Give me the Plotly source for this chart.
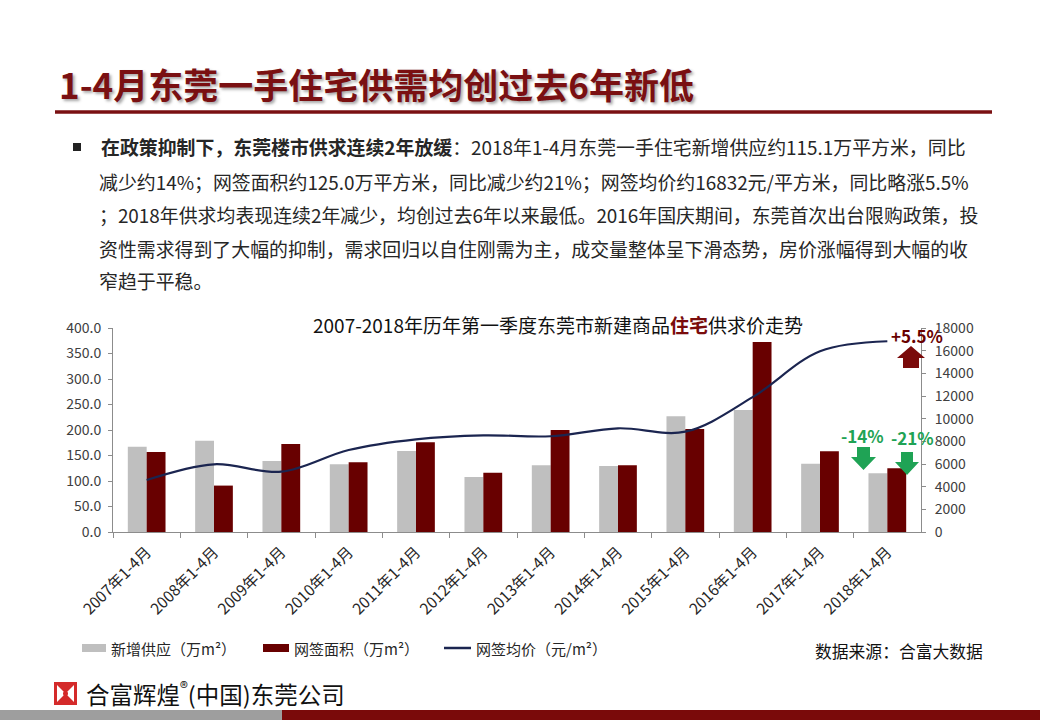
import plotly.graph_objects as go

# ---------------- data ----------------
categories = ["2007年1-4月", "2008年1-4月", "2009年1-4月", "2010年1-4月", "2011年1-4月",
              "2012年1-4月", "2013年1-4月", "2014年1-4月", "2015年1-4月", "2016年1-4月",
              "2017年1-4月", "2018年1-4月"]
supply = [167, 179, 139, 133, 159, 108, 131, 129.5, 227, 239, 133.8, 115.1]   # 新增供应（万m²）
signed = [157, 91, 172.5, 137, 176, 116, 200, 131, 202, 372.5, 158.2, 125.0]  # 网签面积（万m²）
price = [4590, 5975, 5320, 7240, 8180, 8530, 8450, 9150, 8850, 11900, 15950, 16832]  # 网签均价（元/m²）

series_names = ["新增供应（万m²）", "网签面积（万m²）", "网签均价（元/m²）"]
chart_title = "2007-2018年历年第一季度东莞市新建商品<b><span style='color:#7A0C0C'>住宅</span></b>供求价走势"
page_title = "1-4月东莞一手住宅供需均创过去6年新低"
body_lines = [
    "<b>在政策抑制下，东莞楼市供求连续2年放缓</b>：2018年1-4月东莞一手住宅新增供应约115.1万平方米，同比",
    "减少约14%；网签面积约125.0万平方米，同比减少约21%；网签均价约16832元/平方米，同比略涨5.5%",
    "；2018年供求均表现连续2年减少，均创过去6年以来最低。2016年国庆期间，东莞首次出台限购政策，投",
    "资性需求得到了大幅的抑制，需求回归以自住刚需为主，成交量整体呈下滑态势，房价涨幅得到大幅的收",
    "窄趋于平稳。",
]
change_labels = ["+5.5%", "-14%", "-21%"]
source_text = "数据来源：合富大数据"
footer_text = "合富辉煌<sup>®</sup>(中国)东莞公司"

# ---------------- styles ----------------
W, H = 1040, 720
FONT = "Noto Sans CJK SC"
GRAY = "#BFBFBF"
DARKRED = "#680000"
NAVY = "#1B2550"
GREEN = "#1FA355"
TITLE_RED = "#7A1012"
AXIS = "#8C8C8C"


def px(x):
    return x / W


def py(y):
    return 1 - y / H


def path(points):
    return "M " + " L ".join(f"{px(x):.5f},{py(y):.5f}" for x, y in points) + " Z"


fig = go.Figure()
fig.add_trace(go.Bar(x=categories, y=supply, name=series_names[0], marker_color=GRAY,
                     marker_line_width=0, yaxis="y"))
fig.add_trace(go.Bar(x=categories, y=signed, name=series_names[1], marker_color=DARKRED,
                     marker_line_width=0, yaxis="y"))
fig.add_trace(go.Scatter(x=categories, y=price, name=series_names[2], mode="lines",
                         line=dict(color=NAVY, width=2.2, shape="spline", smoothing=1.0),
                         yaxis="y2"))

fig.update_layout(
    width=W, height=H,
    margin=dict(l=0, r=0, t=0, b=0, pad=0),
    paper_bgcolor="white", plot_bgcolor="white",
    showlegend=False,
    barmode="group", bargap=0.44, bargroupgap=0,
    font=dict(family=FONT, color="#404040", size=13),
    xaxis=dict(domain=[px(113), px(921)], type="category", showline=True, linecolor=AXIS,
               linewidth=1, ticks="outside", tickson="boundaries", ticklen=5, tickcolor=AXIS,
               tickangle=-45, ticklabelstandoff=4,
               tickfont=dict(size=15.5, color="#262626", family=FONT),
               showgrid=False, zeroline=False, anchor="y", automargin=False),
    yaxis=dict(domain=[py(532), py(328)], range=[0, 400], dtick=50, tickformat=".1f",
               showline=True, linecolor=AXIS, ticks="outside", ticklen=4, tickcolor=AXIS,
               ticklabelstandoff=4,
               tickfont=dict(size=14, color="#404040", family=FONT),
               showgrid=False, zeroline=False, anchor="x", automargin=False),
    yaxis2=dict(domain=[py(532), py(328)], range=[0, 18000], dtick=2000, tickformat="d",
                overlaying="y", side="right", showline=True, linecolor=AXIS, ticks="outside",
                ticklen=4, tickcolor=AXIS, ticklabelstandoff=6,
                tickfont=dict(size=14, color="#404040", family=FONT),
                showgrid=False, zeroline=False, anchor="x", automargin=False),
)

shapes = []
annotations = []

# page title + rule
annotations.append(dict(text=f"<b>{page_title}</b>", x=px(57), y=py(83), xref="paper", yref="paper",
                        xanchor="left", yanchor="middle", showarrow=False,
                        font=dict(family=FONT, size=35, color=TITLE_RED,
                                  shadow="2px 2px 3px rgba(0,0,0,0.35)")))
shapes.append(dict(type="line", xref="paper", yref="paper", x0=px(55), x1=px(992),
                   y0=py(112), y1=py(112), line=dict(color=TITLE_RED, width=3.5)))

# bullet + body
shapes.append(dict(type="rect", xref="paper", yref="paper", x0=px(73), x1=px(81),
                   y0=py(151), y1=py(143), fillcolor="#222222", line_width=0))
line_y = [147, 181, 214, 248, 281]
for i, (t, yy) in enumerate(zip(body_lines, line_y)):
    annotations.append(dict(text=t, x=px(99 if i == 0 else 97), y=py(yy), xref="paper", yref="paper",
                            xanchor="left", yanchor="middle", showarrow=False,
                            font=dict(family=FONT, size=18.9, color="#262626")))

# chart title
annotations.append(dict(text=chart_title, x=px(558), y=py(325), xref="paper", yref="paper",
                        xanchor="center", yanchor="middle", showarrow=False,
                        font=dict(family=FONT, size=19, color="#111111")))

# change labels and arrows
annotations.append(dict(text=f"<b>{change_labels[0]}</b>", x=px(917), y=py(335), xref="paper",
                        yref="paper", xanchor="center", yanchor="middle", showarrow=False,
                        font=dict(family=FONT, size=17, color=DARKRED)))
annotations.append(dict(text=f"<b>{change_labels[1]}</b>", x=px(862), y=py(435), xref="paper",
                        yref="paper", xanchor="center", yanchor="middle", showarrow=False,
                        font=dict(family=FONT, size=17, color=GREEN)))
annotations.append(dict(text=f"<b>{change_labels[2]}</b>", x=px(912), y=py(438), xref="paper",
                        yref="paper", xanchor="center", yanchor="middle", showarrow=False,
                        font=dict(family=FONT, size=17, color=GREEN)))
shapes.append(dict(type="path", xref="paper", yref="paper",
                   path=path([(897, 358), (911, 346), (925, 358), (919, 358), (919, 368),
                              (903, 368), (903, 358)]),
                   fillcolor="#7A0A0A", line_width=0))
shapes.append(dict(type="path", xref="paper", yref="paper",
                   path=path([(857, 447), (870, 447), (870, 457), (876, 457), (863.5, 470),
                              (851, 457), (857, 457)]),
                   fillcolor=GREEN, line_width=0))
shapes.append(dict(type="path", xref="paper", yref="paper",
                   path=path([(901, 452), (913, 452), (913, 462), (919, 462), (907, 475),
                              (895, 462), (901, 462)]),
                   fillcolor=GREEN, line_width=0))

# manual legend
shapes.append(dict(type="rect", xref="paper", yref="paper", x0=px(82), x1=px(106),
                   y0=py(652), y1=py(644), fillcolor=GRAY, line_width=0))
shapes.append(dict(type="rect", xref="paper", yref="paper", x0=px(263), x1=px(289),
                   y0=py(652), y1=py(644), fillcolor=DARKRED, line_width=0))
shapes.append(dict(type="line", xref="paper", yref="paper", x0=px(444), x1=px(471),
                   y0=py(648), y1=py(648), line=dict(color=NAVY, width=2.5)))
for t, xx in zip(series_names, [109, 292, 474]):
    annotations.append(dict(text=t, x=px(xx), y=py(648), xref="paper", yref="paper",
                            xanchor="left", yanchor="middle", showarrow=False,
                            font=dict(family=FONT, size=15, color="#262626")))
annotations.append(dict(text=source_text, x=px(985), y=py(651), xref="paper", yref="paper",
                        xanchor="right", yanchor="middle", showarrow=False,
                        font=dict(family=FONT, size=16.8, color="#111111")))

# footer logo + text + bars
shapes.append(dict(type="rect", xref="paper", yref="paper", x0=px(54), x1=px(77),
                   y0=py(705), y1=py(682), fillcolor="#D42A2A", line_width=0))
shapes.append(dict(type="path", xref="paper", yref="paper",
                   path=path([(57, 685), (65.5, 693.5), (57, 702)]), fillcolor="white", line_width=0))
shapes.append(dict(type="path", xref="paper", yref="paper",
                   path=path([(74, 685), (65.5, 693.5), (74, 702)]), fillcolor="white", line_width=0))
shapes.append(dict(type="circle", xref="paper", yref="paper", x0=px(63), x1=px(68),
                   y0=py(696), y1=py(691), fillcolor="#D42A2A", line_width=0))
annotations.append(dict(text=footer_text, x=px(84), y=py(693), xref="paper", yref="paper",
                        xanchor="left", yanchor="middle", showarrow=False,
                        font=dict(family=FONT, size=23.5, color="#111111")))
shapes.append(dict(type="rect", xref="paper", yref="paper", x0=0, x1=px(282),
                   y0=0, y1=py(710), fillcolor="#9E9E9E", line_width=0))
shapes.append(dict(type="rect", xref="paper", yref="paper", x0=px(282), x1=1,
                   y0=0, y1=py(710), fillcolor="#7A0A0A", line_width=0))

fig.update_layout(shapes=shapes, annotations=annotations)
fig.write_html("out.html", config={"displayModeBar": False},
               post_script="document.body.style.margin='0';document.body.style.overflow='hidden';")
